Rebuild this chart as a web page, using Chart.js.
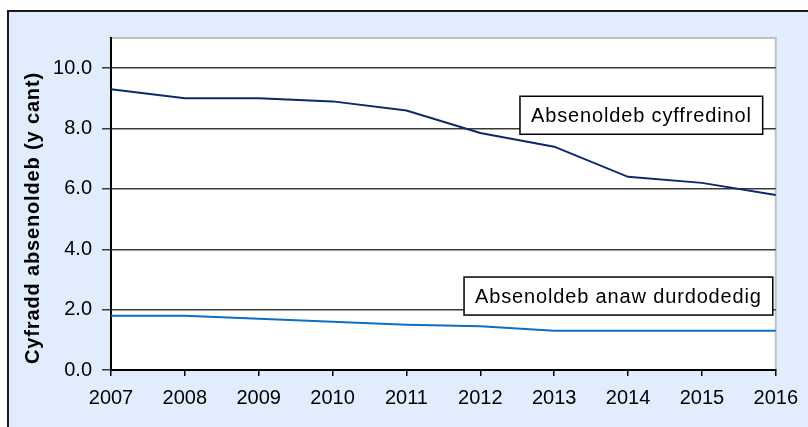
<!DOCTYPE html>
<html>
<head>
<meta charset="utf-8">
<script src="https://cdn.jsdelivr.net/npm/chart.js@4"></script>
<style>
  html, body { margin: 0; padding: 0; width: 808px; height: 427px; overflow: hidden; background: #fff; }
  #frame { position: absolute; left: 7px; top: 10px; width: 900px; height: 500px; border: 2px solid #1a1a1a; background: #e1edfc; }
  #wrap { position: absolute; left: 0; top: 0; width: 808px; height: 427px; }
</style>
</head>
<body>
<div id="frame"></div>
<div id="wrap"><canvas id="chart" width="808" height="427"></canvas></div>
<script>
// blynyddoedd a chyfraddau (y cant)
const blynyddoedd = ["2007","2008","2009","2010","2011","2012","2013","2014","2015","2016"]
const cyffredinol = [9.3, 9.0, 9.0, 8.9, 8.6, 7.85, 7.4, 6.4, 6.2, 5.8]
const anawDurdodedig = [1.8, 1.8, 1.7, 1.6, 1.5, 1.45, 1.3, 1.3, 1.3, 1.3]
const ticksY = [0, 2, 4, 6, 8, 10]
const teitlY = "Cyfradd absenoldeb (y cant)"

// labeli ar y graff: [testun, safle x (mynegai), safle y (gwerth)]
const labeli = [
  ["Absenoldeb cyffredinol", 7.18, 8.44],
  ["Absenoldeb anaw durdodedig", 6.87, 2.45]
]

const FONT = "'Liberation Sans', Arial, sans-serif"

const cefndirPlot = {
  id: "cefndirPlot",
  beforeDraw(chart) {
    const { ctx, chartArea: a } = chart
    ctx.save()
    ctx.fillStyle = "#ffffff"
    ctx.fillRect(a.left, a.top, a.right - a.left, a.bottom - a.top)
    ctx.strokeStyle = "#c0c0c0"
    ctx.lineWidth = 2
    ctx.beginPath()
    ctx.moveTo(a.left, a.top)
    ctx.lineTo(a.right, a.top)
    ctx.lineTo(a.right, a.bottom)
    ctx.stroke()
    ctx.restore()
  },
  afterDraw(chart) {
    const { ctx, scales, chartArea: a } = chart
    ctx.save()
    ctx.letterSpacing = "0.85px"
    ctx.textAlign = "center"
    ctx.textBaseline = "middle"

    // teitl echelin y
    ctx.save()
    ctx.translate(33, (a.top + a.bottom) / 2 + 14)
    ctx.rotate(-Math.PI / 2)
    ctx.font = "bold 20px " + FONT
    ctx.fillStyle = "#000"
    ctx.fillText(teitlY, 0, 0)
    ctx.restore()

    ctx.font = "20px " + FONT
    labeli.forEach(([testun, xi, yv]) => {
      const cx = scales.x.getPixelForValue(xi)
      const cy = scales.y.getPixelForValue(yv)
      const w = ctx.measureText(testun).width + 22
      const h = 38
      ctx.fillStyle = "#ffffff"
      ctx.fillRect(cx - w / 2, cy - h / 2, w, h)
      ctx.strokeStyle = "#000000"
      ctx.lineWidth = 1.5
      ctx.strokeRect(cx - w / 2, cy - h / 2, w, h)
      ctx.fillStyle = "#000000"
      ctx.fillText(testun, cx, cy + 1)
    })
    ctx.restore()
  }
}

new Chart(document.getElementById("chart"), {
  type: "line",
  data: {
    labels: blynyddoedd,
    datasets: [
      { data: cyffredinol, borderColor: "#0b2a6b", borderWidth: 2, pointRadius: 0, tension: 0 },
      { data: anawDurdodedig, borderColor: "#0a6fc0", borderWidth: 2, pointRadius: 0, tension: 0 }
    ]
  },
  options: {
    responsive: false,
    animation: false,
    layout: { padding: { top: 38, right: 32, left: 0, bottom: 0 } },
    plugins: { legend: { display: false }, tooltip: { enabled: false } },
    scales: {
      x: {
        offset: false,
        afterFit: s => { s.height = 57 },
        grid: { drawOnChartArea: false, drawTicks: true, tickLength: 6, color: "#000", lineWidth: 1.5 },
        border: { color: "#000", width: 2 },
        ticks: { color: "#000", padding: 10, maxRotation: 0, autoSkip: false, font: { family: FONT, size: 20 } }
      },
      y: {
        min: 0, max: 11,
        afterFit: s => { s.width = 111 },
        afterBuildTicks: s => { s.ticks = ticksY.map(v => ({ value: v })) },
        grid: { color: "#3a3a3a", lineWidth: 1.5, tickLength: 9 },
        border: { color: "#000", width: 2 },
        ticks: { color: "#000", padding: 10, callback: v => v.toFixed(1), font: { family: FONT, size: 20 } }
      }
    }
  },
  plugins: [cefndirPlot]
})
</script>
</body>
</html>
